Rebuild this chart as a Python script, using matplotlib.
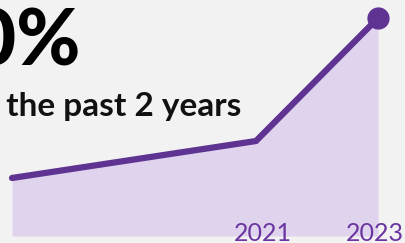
import matplotlib
matplotlib.use("Agg")
import matplotlib.pyplot as plt

years = [2017, 2021, 2023]
values = [58, 95, 218]
tick_years = [2021, 2023]
tick_labels = ["2021", "2023"]
headline = "130%"
subtitle = "Growth in the past 2 years"

W, H = 406, 243
bg = "#f2f2f2"
line_c = "#5e3391"
fill_c = "#e0d3ee"
label_c = "#6a35a0"

fig = plt.figure(figsize=(W / 100, H / 100), dpi=100, facecolor=bg)
ax = fig.add_axes([0, 0, 1, 1])
ax.set_facecolor(bg)
ax.set_xlim(2016.803, 2023.459)
ax.set_ylim(-7, 236)
ax.axis("off")

ax.fill_between(years, values, 0, color=fill_c, linewidth=0, zorder=1)
ax.plot(years, values, color=line_c, linewidth=4.5, solid_capstyle="round",
        solid_joinstyle="miter", zorder=2)
ax.plot(years[-1:], values[-1:], "o", color=line_c, markersize=15, zorder=3)

label_dx = [0.11, -0.05]
for ty, tl, dx in zip(tick_years, tick_labels, label_dx):
    ax.text(ty + dx, -5, tl, ha="center", va="baseline", color=label_c,
            fontsize=18, family="Lato", zorder=4)

fig.text(81 / W, 1 - 65 / H, headline, ha="right", va="baseline",
         fontsize=56, fontweight="black", family="Lato", color="#000000")
fig.text(241 / W, 1 - 116 / H, subtitle, ha="right", va="baseline",
         fontsize=24, fontweight="bold", family="Lato", color="#111111")

fig.savefig("out.png", dpi=100, facecolor=bg)
